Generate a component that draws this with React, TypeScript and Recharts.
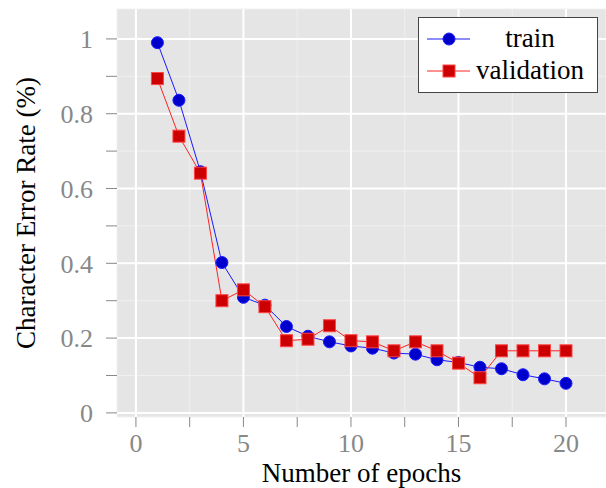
import React from "react";
import { LineChart, Line, XAxis, YAxis, CartesianGrid, ReferenceLine } from "recharts";

const epochs = [1, 2, 3, 4, 5, 6, 7, 8, 9, 10, 11, 12, 13, 14, 15, 16, 17, 18, 19, 20];
const trainCER = [0.99, 0.836, 0.645, 0.402, 0.309, 0.288, 0.231, 0.205, 0.19, 0.179, 0.173, 0.16, 0.157, 0.142, 0.135, 0.122, 0.118, 0.102, 0.091, 0.079];
const validationCER = [0.894, 0.74, 0.641, 0.3, 0.329, 0.284, 0.193, 0.197, 0.233, 0.193, 0.19, 0.166, 0.19, 0.166, 0.133, 0.094, 0.166, 0.166, 0.166, 0.166];

const xTicks = [0, 2.5, 5, 7.5, 10, 12.5, 15, 17.5, 20];
const xMajor = [0, 5, 10, 15, 20];
const yTicks = [0, 0.1, 0.2, 0.3, 0.4, 0.5, 0.6, 0.7, 0.8, 0.9, 1];
const yMajor = [0, 0.2, 0.4, 0.6, 0.8, 1];

const data = epochs.map((epoch, i) => ({
  epoch,
  train: trainCER[i],
  validation: validationCER[i],
}));

const FONT = "'Liberation Serif', serif";
const TICK_GRAY = "#888888";
const TICK_FS = 26;
const TITLE_FS = 27;

const fmtX = (v: number) => (xMajor.includes(v) ? String(v) : "");
const fmtY = (v: number) => (Math.round(v * 10) % 2 === 0 ? String(v) : "");

const CircleDot = (props: any) => {
  const { cx, cy, index } = props;
  return <circle key={`c-${index}`} cx={cx} cy={cy} r={6} fill="#0000cc" stroke="#1a1aff" strokeWidth={1} />;
};

const SquareDot = (props: any) => {
  const { cx, cy, index } = props;
  return <rect key={`s-${index}`} x={cx - 6} y={cy - 6} width={12} height={12} fill="#cc0000" stroke="#ff4444" strokeWidth={1} />;
};

// legend drawn as an overlay so it doesn't steal room from the plot
const LegendBox = () => (
  <svg width={180} height={76} style={{ position: "absolute", left: 418, top: 17 }}>
    <rect x={0.5} y={0.5} width={179} height={75} fill="#ffffff" stroke="#444444" strokeWidth={1} />
    <line x1={9} y1={22} x2={52} y2={22} stroke="#1a1aff" strokeWidth={1} />
    <circle cx={31} cy={22} r={6} fill="#0000cc" stroke="#1a1aff" />
    <text x={112} y={30} textAnchor="middle" fontSize={TITLE_FS} style={{ fontFamily: FONT }} fill="#000">train</text>
    <line x1={9} y1={54} x2={52} y2={54} stroke="#ff2222" strokeWidth={1} />
    <rect x={25} y={48} width={12} height={12} fill="#cc0000" stroke="#ff4444" />
    <text x={112} y={62} textAnchor="middle" fontSize={TITLE_FS} style={{ fontFamily: FONT }} fill="#000">validation</text>
  </svg>
);

export default function App() {
  return (
    <div style={{ position: "absolute", left: 0, top: 0, width: 606, height: 488, background: "#fff", fontFamily: FONT }}>
      <LineChart width={606} height={488} data={data} margin={{ top: 9, right: 0, bottom: 0, left: 0 }} style={{ fontFamily: FONT }}>
        <CartesianGrid fill="#e5e5e5" stroke="#f0f0f0" strokeWidth={1} />
        {xMajor.map((v) => (
          <ReferenceLine key={`vx-${v}`} x={v} stroke="#ffffff" strokeWidth={2} />
        ))}
        {yMajor.map((v) => (
          <ReferenceLine key={`hy-${v}`} y={v} stroke="#ffffff" strokeWidth={2} />
        ))}
        <XAxis
          dataKey="epoch"
          type="number"
          domain={[-0.88, 21.86]}
          allowDataOverflow
          ticks={xTicks}
          tickFormatter={fmtX}
          interval={0}
          axisLine={false}
          tickSize={10}
          tickMargin={7}
          tickLine={{ stroke: TICK_GRAY }}
          tick={{ fill: TICK_GRAY, fontSize: TICK_FS, style: { fontFamily: FONT } }}
          height={71}
          label={{ value: "Number of epochs", position: "insideBottom", offset: 6, fill: "#000", fontSize: TITLE_FS, style: { fontFamily: FONT } }}
        />
        <YAxis
          type="number"
          domain={[-0.011, 1.08]}
          allowDataOverflow
          ticks={yTicks}
          tickFormatter={fmtY}
          interval={0}
          axisLine={false}
          tickSize={11}
          tickMargin={13}
          tickLine={{ stroke: TICK_GRAY }}
          tick={{ fill: TICK_GRAY, fontSize: TICK_FS, style: { fontFamily: FONT } }}
          width={117}
          label={{
            value: "Character Error Rate (%)",
            angle: -90,
            position: "insideLeft",
            offset: 25,
            fill: "#000",
            fontSize: TITLE_FS,
            style: { textAnchor: "middle", fontFamily: FONT },
          }}
        />
        <Line
          dataKey="train"
          name="train"
          stroke="#1a1aff"
          strokeWidth={1}
          dot={CircleDot}
          activeDot={false}
          isAnimationActive={false}
        />
        <Line
          dataKey="validation"
          name="validation"
          stroke="#ff2222"
          strokeWidth={1}
          dot={SquareDot}
          activeDot={false}
          isAnimationActive={false}
        />
      </LineChart>
      <LegendBox />
    </div>
  );
}
